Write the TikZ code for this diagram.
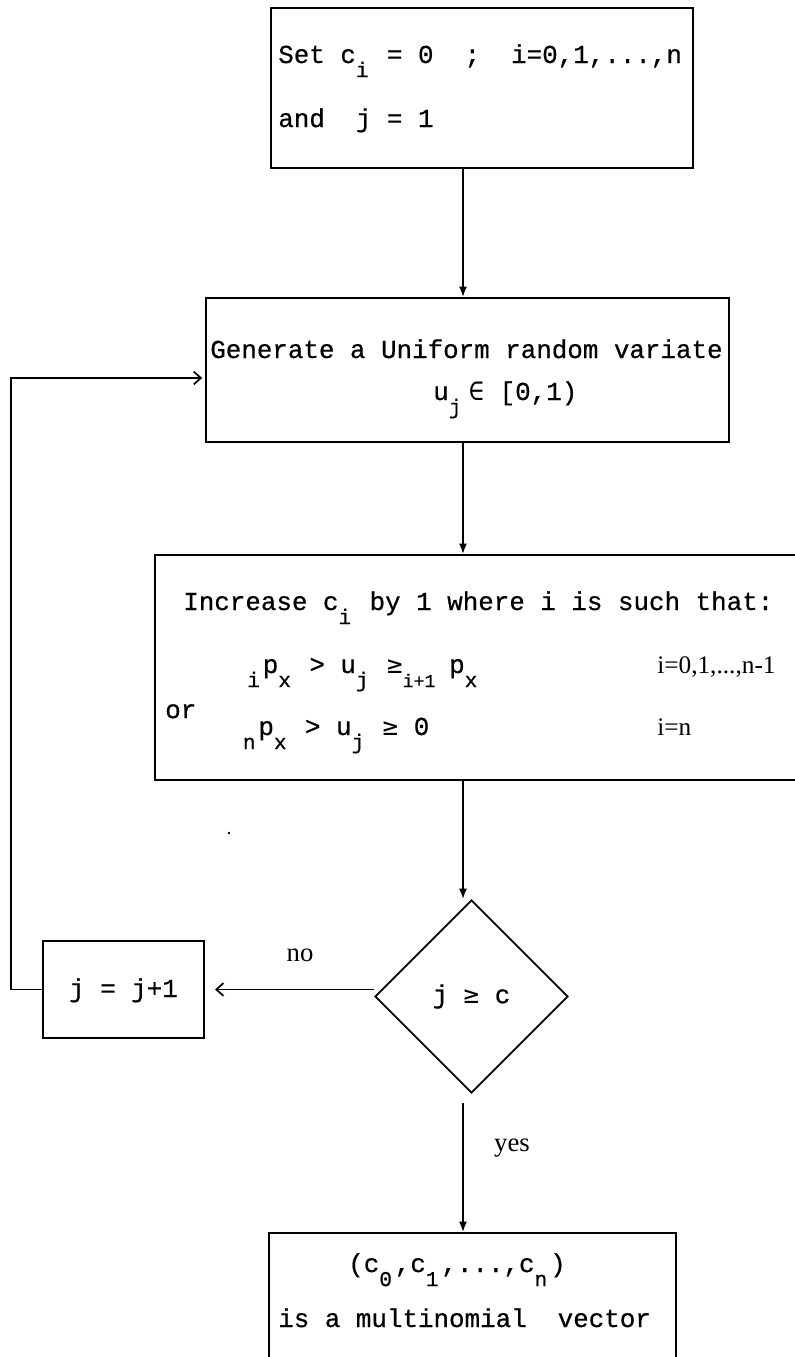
\documentclass[tikz,border=0pt]{standalone}
\usepackage{fontspec}
\setmainfont{Liberation Serif}
\setmonofont[FakeBold=0.6]{Liberation Mono}
\newfontfamily\symfont{DejaVu Sans Mono}
\usetikzlibrary{shapes.geometric,arrows.meta}
\tikzstyle{flowbox}=[
    draw,line width=1.4pt,anchor=north west,inner sep=0pt
    ]
\tikzstyle{test}=[
    draw,diamond,line width=1.3pt,inner sep=0pt,
    minimum width=4.825cm,minimum height=4.825cm,
    font=\ttfamily\fontsize{18.4}{20}\selectfont
    ]
\tikzstyle{txt}=[inner sep=0pt,anchor=base west,font=\ttfamily\fontsize{18.4}{20}\selectfont]
\tikzstyle{rangetxt}=[inner sep=0pt,anchor=base west,font=\fontsize{18}{20}\selectfont]
\tikzstyle{answer}=[inner sep=0pt,font=\fontsize{19}{20}\selectfont]
\tikzstyle{down}=[line width=1.2pt,-{Latex[length=0.26cm,width=0.2cm]}]
\tikzstyle{back}=[line width=1.2pt,-{Straight Barb[length=0.18cm,width=0.32cm]}]
% lowered index, one typewriter column wide
\newcommand{\lo}[2][1]{\raisebox{-10pt}{\makebox[#1\fontcharwd\font`x][l]{\fontsize{15}{15}\selectfont #2}}}
\newcommand{\atleast}{{\symfont ≥}}
\newcommand{\isin}{{\symfont ∈}}
\begin{document}
\begin{tikzpicture}[x=0.025cm,y=-0.025cm]
\useasboundingbox (0,0) rectangle (795,1357);
\coordinate (axis) at (463,0);
%start values
\node[flowbox,minimum width=10.55cm,minimum height=4cm] (init) at (270,7) {};
\node[txt] (init1) at (278,63) {Set c\lo{i} = 0~~;~~i=0,1,...,n};
\node[txt] (init2) at (278,127) {and~~j = 1};
%uniform variate
\node[flowbox,minimum width=13.075cm,minimum height=3.6cm] (gen) at (205,297) {};
\node[txt] (gen1) at (210,358) {Generate a Uniform random variate};
\node[txt] (gen2) at (433,400) {u\lo{j}\hspace{3pt}\isin{} [0,1)};
%count step
\node[flowbox,minimum width=16.4cm,minimum height=5.625cm] (incr) at (154,554) {};
\node[txt] (incr1) at (183,610) {Increase c\lo{i} by 1 where i is such that:};
\node[txt] (incr2) at (247,673) {\lo{i}p\lo{x} > u\lo{j} \atleast{}\lo[3]{\fontsize{13}{13}\selectfont i+1}p\lo{x}};
\node[rangetxt] (range2) at (657,673) {i=0,1,...,n-1};
\node[txt] (incr3) at (165,735) {\raisebox{12pt}{or}~~~\lo{n}p\lo{x} > u\lo{j} \atleast{} 0};
\node[rangetxt] (range3) at (657,735) {i=n};
%test and loop
\node[test] (cmp) at (471.5,996.5) {j \atleast{} c};
\node[flowbox,minimum width=4.025cm,minimum height=2.425cm] (inc) at (42,940) {};
\node[txt,anchor=base] (inc1) at (inc.center |- 0,997) {j = j+1};
\fill (229,833) circle (1.4);
%result
\node[flowbox,minimum width=10.175cm,minimum height=3.6cm] (out) at (268,1232) {};
\node[txt] (out1) at (348,1272) {(c\lo{0},c\lo{1},...,c\lo{n})};
\node[txt] (out2) at (278,1327) {is a multinomial~~vector};
\coordinate (entry) at (gen.west |- 0,378);
%arrows
\draw[down] (init.south -| axis) -- (gen.north -| axis);
\draw[down] (gen.south -| axis) -- (incr.north -| axis);
\draw[down] (incr.south -| axis) -- (cmp.north -| axis);
\draw[down] ([yshift=-0.22cm]cmp.south -| axis) -- (out.north -| axis);
\draw[back,shorten >=0.25cm] (inc.east -| cmp.west) -- (inc.east);
\node[answer] (no) at (300,955) {no};
\draw[back,shorten >=2pt] (inc.west) -- ++(-31,0) |- (entry);
\node[answer] (yes) at (512,1148) {yes};
\end{tikzpicture}
\end{document}
